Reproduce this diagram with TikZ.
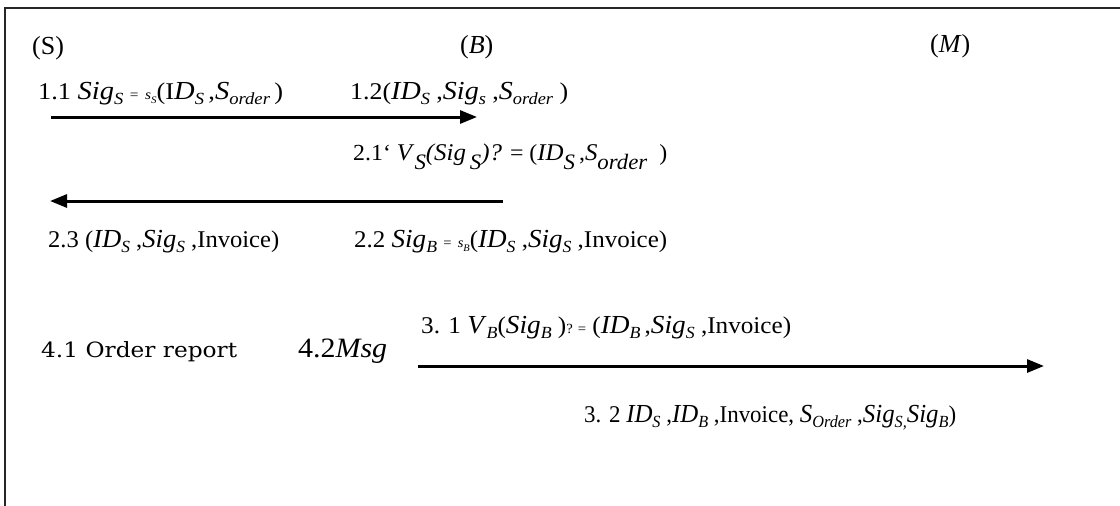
\documentclass[tikz,border=0pt]{standalone}
\usepackage{graphicx}
\usepackage{fontspec}
\setmainfont{Liberation Serif}
\newfontfamily\wideserif{DejaVu Serif}
\usetikzlibrary{arrows.meta}
\newcommand{\mi}[1]{{\fontsize{26}{26}\selectfont\textit{#1}}}
\newcommand{\ms}[2]{\mi{#1}\raisebox{-5pt}{\fontsize{17}{17}\selectfont\textit{#2}}}
\newcommand{\sm}[1]{{\fontsize{14}{14}\selectfont #1}}
\newcommand{\bi}[1]{{\fontsize{24}{24}\selectfont\textit{#1}}}
\newcommand{\bs}[2]{\bi{#1}\raisebox{-9pt}{\fontsize{22}{22}\selectfont\textit{#2}}}
\newcommand{\fitw}[2]{\resizebox{#1}{\height}{#2}}
\begin{document}
\begin{tikzpicture}[x=1pt,y=-1pt,
  lbl/.style={anchor=base west,inner sep=0pt,font=\fontsize{24}{26}\selectfont},
  msg/.style={line width=3pt,-{Triangle[length=17pt,width=13pt]}},
  frame/.style={line width=2.5pt,draw=black!85}]
\useasboundingbox (0,0) rectangle (1120,506);
\draw[frame] (5,506) -- (5,8) -- (1120,8);
% parties
\node[lbl,font=\fontsize{26}{26}\selectfont] (S) at (32,54) {(S)};
\node[lbl,font=\fontsize{26}{26}\selectfont] (B) at (460,53) {(\textit{B})};
\node[lbl,font=\fontsize{26}{26}\selectfont] (M) at (930,52) {(\textit{M})};
% step 1
\node[lbl] (l11) at (38,99) {\fitw{245pt}{1.1 \ms{Sig}{S} \sm{=} \sm{\textit{s}\raisebox{-4pt}{\fontsize{10}{10}\selectfont\textit{S}}}(I\ms{D}{S}\,,\ms{S}{order}\,)}};
\node[lbl] (l12) at (350,99) {\fitw{218pt}{1.2(\ms{ID}{S} ,\ms{Sig}{s} ,\ms{S}{order} )}};
\coordinate (a1s) at (51,117);
\coordinate (a1e) at (477,117);
\draw[msg] (a1s) -- (a1e);
% step 2
\node[lbl,font=\fontsize{23}{24}\selectfont] (l21) at (353,160) {\fitw{314pt}{2.1` \bs{V}{S}\bi{(Sig}\,\raisebox{-9pt}{\fontsize{22}{22}\selectfont\textit{S}}\bi{)?} = (\bs{ID}{S}\,,\bs{S}{order}\ \ )}};
\coordinate (a2s) at (503,201);
\coordinate (a2e) at (50,201);
\draw[msg] (a2s) -- (a2e);
\node[lbl] (l23) at (48,247) {\fitw{231pt}{2.3 (\ms{ID}{S} ,\ms{Sig}{S} ,Invoice)}};
\node[lbl] (l22) at (354,247) {\fitw{313pt}{2.2 \ms{Sig}{B} \sm{=} \sm{\textit{s}\raisebox{-4pt}{\fontsize{10}{10}\selectfont\textit{B}}}(\ms{ID}{S} ,\ms{Sig}{S} ,Invoice)}};
% step 3/4
\node[lbl,font=\wideserif\fontsize{21}{24}\selectfont] (l41) at (41,357) {\fitw{196pt}{4.1 Order\ report}};
\node[lbl,font=\fontsize{28}{30}\selectfont] (l42) at (298,357) {\fitw{89pt}{4.2\textit{Msg}}};
\node[lbl] (l31) at (421,333) {\fitw{370pt}{3. 1 \ms{V}{B}(\ms{Sig}{B} )\sm{? =} (\ms{ID}{B}\,,\ms{Sig}{S} ,Invoice)}};
\coordinate (a3s) at (418,366);
\coordinate (a3e) at (1044,366);
\draw[msg] (a3s) -- (a3e);
\node[lbl] (l32) at (584,422) {\fitw{372pt}{3. 2 \ms{ID}{S} ,\ms{ID}{B} ,Invoice, \ms{S}{Order} ,\ms{Sig}{S,}\ms{Sig}{B})}};
\end{tikzpicture}
\end{document}
